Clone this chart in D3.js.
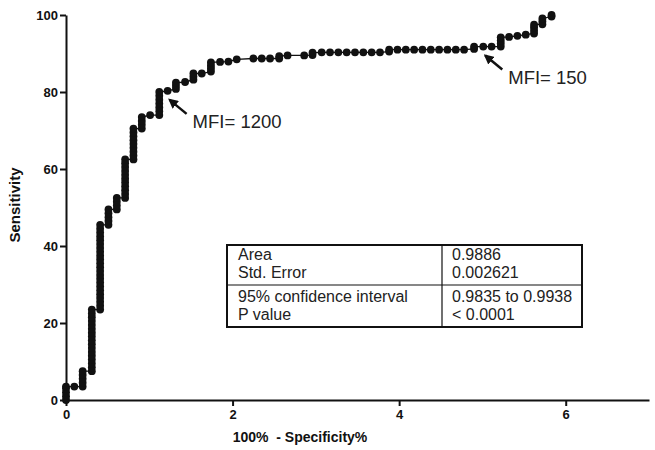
<!DOCTYPE html>
<html>
<head>
<meta charset="utf-8">
<script src="https://cdn.jsdelivr.net/npm/d3@7"></script>
<style>
  body { margin: 0; background: #fff; }
  svg { display: block; font-family: "Liberation Sans", Arial, sans-serif; }
</style>
</head>
<body>
<div id="chart"></div>
<script>
// ROC curve: one entry per false-positive step, each with the sensitivities reached there
var fpr = [0, 0.10, 0.20, 0.31, 0.41, 0.51, 0.61, 0.71, 0.81, 0.91, 1.01, 1.12, 1.22, 1.32,
  1.43, 1.53, 1.63, 1.74, 1.85, 1.95, 2.05, 2.25, 2.35, 2.45, 2.56, 2.66, 2.86, 2.96,
  3.07, 3.17, 3.27, 3.37, 3.47, 3.57, 3.67, 3.77, 3.88, 3.98, 4.08, 4.18, 4.28, 4.38,
  4.48, 4.58, 4.68, 4.78, 4.90, 5.01, 5.11, 5.22, 5.32, 5.42, 5.52, 5.62, 5.72, 5.83];

var sens = [
  [0, 1, 2, 3, 3.5],
  [3.5],
  [3.5, 4.5, 5.5, 6.5, 7.5],
  [7.5, 8.5, 9.5, 10.5, 11.5, 12.5, 13.5, 14.5, 15.5, 16.5, 17.5, 18.5, 19.5, 20.5, 21.5, 22.5, 23.5],
  [23.5, 24.5, 25.5, 26.5, 27.5, 28.5, 29.5, 30.5, 31.5, 32.5, 33.5, 34.5, 35.5, 36.5, 37.5,
    38.5, 39.5, 40.5, 41.5, 42.5, 43.5, 44.5, 45.5],
  [45.5, 46.5, 47.5, 48.5, 49.5],
  [49.5, 50.5, 51.5, 52.5],
  [52.5, 53.5, 54.5, 55.5, 56.5, 57.5, 58.5, 59.5, 60.5, 61.5, 62.5],
  [62.5, 63.5, 64.5, 65.5, 66.5, 67.5, 68.5, 69.5, 70.5],
  [70.5, 71.5, 72.5, 73.5],
  [74],
  [74, 75, 76, 77, 78, 79, 80],
  [80.3],
  [80.8, 81.6, 82.4],
  [82.6],
  [83.2, 84, 84.8],
  [84.8],
  [85.3, 86.1, 86.9, 87.7],
  [87.8],
  [87.9],
  [88.5],
  [88.7],
  [88.7],
  [88.7],
  [88.7, 89.3],
  [89.5],
  [89.5],
  [89.6, 90.2],
  [90.3], [90.3], [90.3], [90.3], [90.3], [90.3], [90.3], [90.3],
  [90.5, 91],
  [91], [91], [91], [91], [91], [91], [91], [91], [91],
  [91.2, 91.8],
  [91.8],
  [91.8],
  [91.8, 92.6, 93.4, 94.2],
  [94.3],
  [94.6],
  [94.9],
  [95.2, 96, 96.8, 97.5],
  [97.6, 98.4, 99.1],
  [99.6, 100]
];

var yTicks = [0, 20, 40, 60, 80, 100];
var xTicks = [0, 2, 4, 6];

var tableLabels = ["Area", "Std. Error", "95% confidence interval", "P value"];
var tableValues = ["0.9886", "0.002621", "0.9835 to 0.9938", "< 0.0001"];

// annotations: label, the point it marks [fpr, sensitivity]
var notes = [
  {text: "MFI= 1200", at: [1.22, 80.3]},
  {text: "MFI= 150", at: [5.01, 91.8]}
];

var W = 655, H = 450;
var margin = {top: 15, right: 6, bottom: 50, left: 66};

var points = [];
fpr.forEach(function(f, i) {
  sens[i].forEach(function(s) { points.push([f, s]); });
});

var x = d3.scaleLinear().domain([0, 7]).range([margin.left, W - margin.right]);
var y = d3.scaleLinear().domain([0, 100]).range([H - margin.bottom, margin.top]);

var svg = d3.select('#chart').append('svg')
  .attr('width', W)
  .attr('height', H);

svg.append('defs').append('marker')
  .attr('id', 'head')
  .attr('viewBox', '0 0 10 10')
  .attr('refX', 8).attr('refY', 5)
  .attr('markerWidth', 4).attr('markerHeight', 4)
  .attr('orient', 'auto-start-reverse')
  .append('path')
  .attr('d', 'M0,0 L10,5 L0,10 z')
  .attr('fill', '#111');

// axes
var yAxis = svg.append('g')
  .attr('transform', 'translate(' + margin.left + ',0)')
  .call(d3.axisLeft(y).tickValues(yTicks).tickSize(6).tickSizeOuter(0).tickPadding(2));

var xAxis = svg.append('g')
  .attr('transform', 'translate(0,' + (H - margin.bottom) + ')')
  .call(d3.axisBottom(x).tickValues(xTicks).tickFormat(d3.format('d'))
    .tickSize(6).tickSizeOuter(0).tickPadding(4));

[yAxis, xAxis].forEach(function(a) {
  a.selectAll('path, line').attr('stroke', '#111').attr('stroke-width', 2);
  a.selectAll('text')
    .attr('fill', '#111')
    .style('font-size', '13px')
    .style('font-weight', 'bold')
    .style('font-family', '"Liberation Sans", Arial, sans-serif');
});

svg.append('text')
  .attr('transform', 'translate(20,' + 205 + ') rotate(-90)')
  .attr('text-anchor', 'middle')
  .style('font-size', '15px')
  .style('font-weight', 'bold')
  .attr('fill', '#111')
  .text('Sensitivity');

svg.append('text')
  .attr('x', 300).attr('y', 442)
  .attr('text-anchor', 'middle')
  .style('font-size', '14px')
  .style('font-weight', 'bold')
  .style('white-space', 'pre')
  .attr('fill', '#111')
  .text('100%  - Specificity%');

// the curve
svg.append('path')
  .datum(points)
  .attr('fill', 'none')
  .attr('stroke', '#111')
  .attr('stroke-width', 1.3)
  .attr('d', d3.line().x(function(d) { return x(d[0]); }).y(function(d) { return y(d[1]); }));

svg.append('g').selectAll('circle')
  .data(points)
  .enter()
  .append('circle')
  .attr('cx', function(d) { return x(d[0]); })
  .attr('cy', function(d) { return y(d[1]); })
  .attr('r', 3.9)
  .attr('fill', '#111');

// arrows + labels
var noteG = svg.append('g');
notes.forEach(function(n) {
  var tx = x(n.at[0]), ty = y(n.at[1]);
  noteG.append('line')
    .attr('x1', tx + 19).attr('y1', ty + 23)
    .attr('x2', tx + 2).attr('y2', ty + 9)
    .attr('stroke', '#111')
    .attr('stroke-width', 2.5)
    .attr('marker-end', 'url(#head)');
  noteG.append('text')
    .attr('x', tx + 25).attr('y', ty + 37)
    .style('font-size', '18.5px')
    .attr('fill', '#222')
    .text(n.text);
});

// stats table
var tbl = {x0: 227, x1: 582, xMid: 442, y0: 245, y1: 327, yMid: 285};
var tg = svg.append('g');
tg.append('rect')
  .attr('x', tbl.x0).attr('y', tbl.y0)
  .attr('width', tbl.x1 - tbl.x0).attr('height', tbl.y1 - tbl.y0)
  .attr('fill', '#fff')
  .attr('stroke', '#111')
  .attr('stroke-width', 2);
tg.append('line')
  .attr('x1', tbl.xMid).attr('x2', tbl.xMid)
  .attr('y1', tbl.y0).attr('y2', tbl.y1)
  .attr('stroke', '#111').attr('stroke-width', 1.2);
tg.append('line')
  .attr('x1', tbl.x0).attr('x2', tbl.x1)
  .attr('y1', tbl.yMid).attr('y2', tbl.yMid)
  .attr('stroke', '#111').attr('stroke-width', 1.2);

var rowY = [260, 278, 301.5, 320];
tg.selectAll('.lab')
  .data(tableLabels)
  .enter().append('text')
  .attr('x', 238).attr('y', function(d, i) { return rowY[i]; })
  .style('font-size', '16px')
  .attr('fill', '#222')
  .text(function(d) { return d; });
tg.selectAll('.val')
  .data(tableValues)
  .enter().append('text')
  .attr('x', 452).attr('y', function(d, i) { return rowY[i]; })
  .style('font-size', '16px')
  .attr('fill', '#222')
  .text(function(d) { return d; });
</script>
</body>
</html>
